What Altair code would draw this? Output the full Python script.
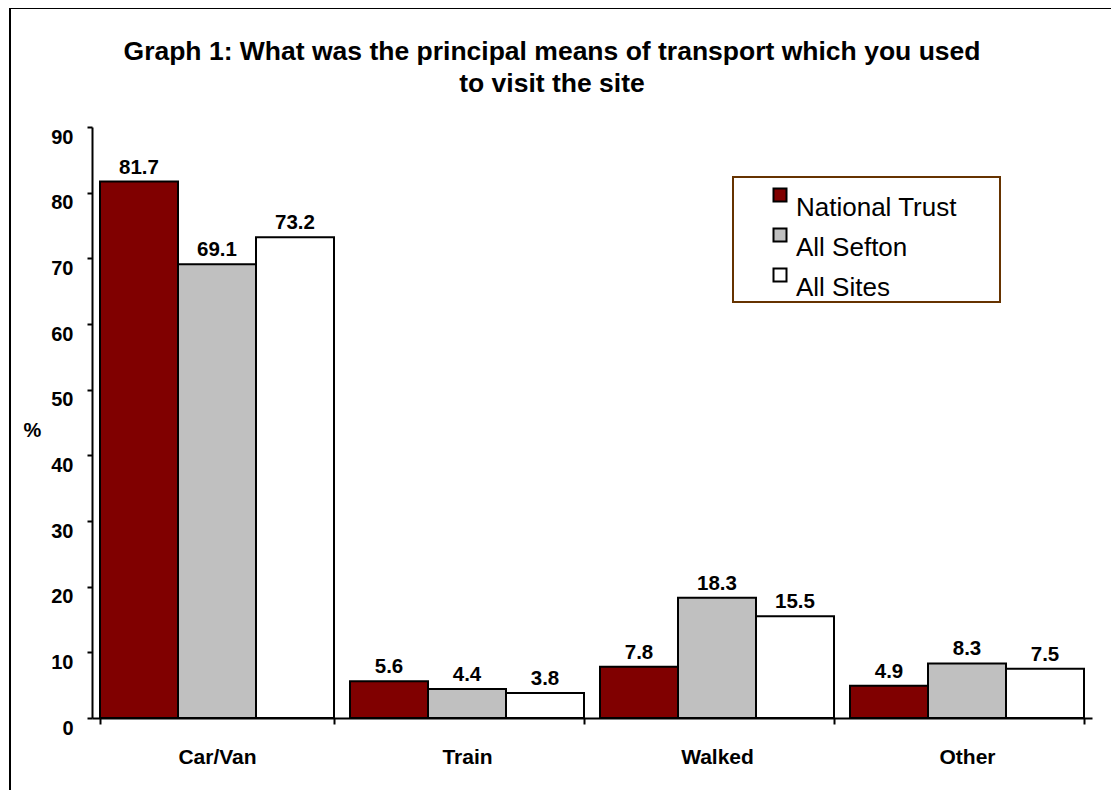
import altair as alt
import pandas as pd

categories = ["Car/Van", "Train", "Walked", "Other"]
series = ["National Trust", "All Sefton", "All Sites"]
national_trust = [81.7, 5.6, 7.8, 4.9]
all_sefton = [69.1, 4.4, 18.3, 8.3]
all_sites = [73.2, 3.8, 15.5, 7.5]
colors = ["#800000", "#C0C0C0", "#FFFFFF"]
y_ticks = [0, 10, 20, 30, 40, 50, 60, 70, 80, 90]
title_lines = ["Graph 1: What was the principal means of transport which you used",
               "to visit the site"]

rows = []
for s, vals in zip(series, [national_trust, all_sefton, all_sites]):
    for c, v in zip(categories, vals):
        rows.append({"category": c, "series": s, "value": v, "label": f"{v:.1f}"})
df = pd.DataFrame(rows)

FONT = "Liberation Sans"

x = alt.X("category:N", sort=categories, title=None,
          scale=alt.Scale(paddingInner=0.064, paddingOuter=0.032),
          axis=alt.Axis(labelAngle=0, labelFontSize=21, labelFontWeight="bold", labelFont=FONT,
                        labelColor="black", tickBand="extent", tickSize=6, tickColor="black",
                        tickWidth=2, domainColor="black", domainWidth=2, labelPadding=22,
                        grid=False))
xo = alt.XOffset("series:N", sort=series)
y = alt.Y("value:Q", scale=alt.Scale(domain=[0, 90], nice=False, zero=True),
          axis=alt.Axis(values=y_ticks, title="%", titleAngle=0, titleFontSize=20,
                        titleFontWeight="bold", titleFont=FONT, titleColor="black",
                        titleAlign="center", titleBaseline="alphabetic", titleX=-60, titleY=309,
                        labelFontSize=20, labelFontWeight="bold", labelFont=FONT,
                        labelColor="black", labelBaseline="top", labelPadding=14,
                        labelFlush=False, labelOverlap=False,
                        tickSize=5, tickColor="black", tickWidth=2,
                        domainColor="black", domainWidth=2, grid=False))

color = alt.Color("series:N", sort=series,
                  scale=alt.Scale(domain=series, range=colors),
                  legend=alt.Legend(title=None, orient="none", legendX=675, legendY=55,
                                    symbolType="square", symbolSize=169,
                                    symbolStrokeColor="black", symbolStrokeWidth=2,
                                    symbolOpacity=1,
                                    labelFontSize=26, labelFont=FONT, labelColor="black",
                                    labelOffset=3, labelBaseline="top", rowPadding=1,
                                    labelLimit=400, padding=0))

one = pd.DataFrame({"a": [0]})
title_df = pd.DataFrame({"t": ["\n".join(title_lines)]})

border = alt.Chart(one).mark_rect(fill="transparent", stroke="black", strokeWidth=2).encode(
    x=alt.value(-82), x2=alt.value(1040), y=alt.value(-119), y2=alt.value(700))

legend_box = alt.Chart(one).mark_rect(fill="transparent", stroke="#663300", strokeWidth=2).encode(
    x=alt.value(641), x2=alt.value(908), y=alt.value(50), y2=alt.value(175))

title = alt.Chart(title_df).mark_text(fontSize=26.5, font=FONT, fontWeight="bold", color="black",
                                      align="center", baseline="alphabetic", lineBreak="\n",
                                      lineHeight=32).encode(
    x=alt.value(460), y=alt.value(-67), text="t:N")

bars = alt.Chart(df).mark_bar(stroke="black", strokeWidth=2).encode(
    x=x, xOffset=xo, y=y, color=color)

labels = alt.Chart(df).mark_text(dy=-8, baseline="alphabetic", fontSize=20.5,
                                 fontWeight="bold", font=FONT, color="black").encode(
    x=alt.X("category:N", sort=categories), xOffset=alt.XOffset("series:N", sort=series),
    y=alt.Y("value:Q"), text="label:N")

chart = alt.layer(border, legend_box, title, bars, labels).properties(
    width=1000, height=591,
    autosize=alt.AutoSizeParams(type="none"),
    padding={"left": 84, "top": 119, "right": 19, "bottom": 72},
    background="white",
).configure_view(stroke="transparent")

chart.save("out.html", embed_options={"renderer": "svg", "actions": False})
